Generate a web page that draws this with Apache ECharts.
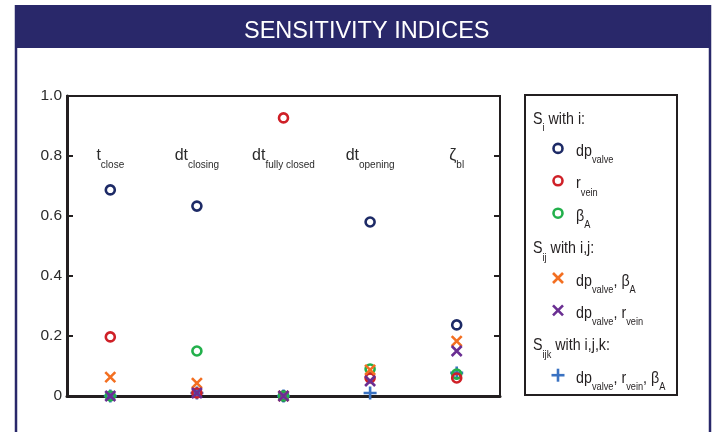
<!DOCTYPE html>
<html><head><meta charset="utf-8">
<script src="https://cdn.jsdelivr.net/npm/echarts@6/dist/echarts.min.js"></script>
<style>html,body{margin:0;padding:0;background:#fff}#c{width:718px;height:432px}</style>
</head><body><div id="c"></div>
<script>
// ---- data ----
const categories = ['t_close', 'dt_closing', 'dt_fully closed', 'dt_opening', 'zeta_bl'];
const categoryLabels = ['{m|t}{s|close}', '{m|dt}{s|closing}', '{m|dt}{s|fully closed}', '{m|dt}{s|opening}', '{m|ζ}{s|bl}'];
const yTicks = [0, 0.2, 0.4, 0.6, 0.8, 1.0];
const dpValve           = [0.687, 0.633, 0.000, 0.580, 0.237];
const rVein             = [0.197, 0.010, 0.927, 0.060, 0.060];
const betaA             = [0.000, 0.150, 0.000, 0.090, 0.073];
const dpValveBetaA      = [0.063, 0.043, 0.000, 0.087, 0.183];
const dpValveRVein      = [0.000, 0.010, 0.000, 0.050, 0.150];
const dpValveRVeinBetaA = [0.000, 0.010, 0.000, 0.010, 0.077];
const seriesNames = ['dp_valve', 'r_vein', 'β_A', 'dp_valve, β_A', 'dp_valve, r_vein', 'dp_valve, r_vein, β_A'];
const legendTexts = [
  '{m|S}{s|i}{m| with i:}',
  '{m|dp}{s|valve}',
  '{m|r}{s|vein}',
  '{m|β}{s|A}',
  '{m|S}{s|ij}{m| with i,j:}',
  '{m|dp}{s|valve}{m|, β}{s|A}',
  '{m|dp}{s|valve}{m|, r}{s|vein}',
  '{m|S}{s|ijk}{m| with i,j,k:}',
  '{m|dp}{s|valve}{m|, r}{s|vein}{m|, β}{s|A}'
];

// ---- styles ----
const C = {navy:'#1d2a66', red:'#cf2027', green:'#22b04b', orange:'#f36f21', purple:'#6a2e92', blue:'#3a72c2'};
const FONT = '"Liberation Sans",Arial,sans-serif';
const TXT = '#231f20';
const rich = {
  m: {fontFamily: FONT, fontSize: 17, lineHeight: 17, verticalAlign: 'top', color: TXT},
  s: {fontFamily: FONT, fontSize: 11, lineHeight: 11, verticalAlign: 'top', padding: [12, 0, 0, 0], color: TXT}
};
const richCat = {
  m: {fontFamily: FONT, fontSize: 16, lineHeight: 16, verticalAlign: 'top', color: '#2b2b2b'},
  s: {fontFamily: FONT, fontSize: 10, lineHeight: 10, verticalAlign: 'top', padding: [12, 0, 0, 0], color: '#2b2b2b'}
};
const XPATH = 'path://M0,0L10,10M10,0L0,10';
const PPATH = 'path://M5,0L5,10M0,5L10,5';

function circleSeries(name, data, color, z) {
  return {name, type: 'scatter', data, z, symbol: 'circle', symbolSize: 9,
    itemStyle: {color: 'rgba(0,0,0,0)', borderColor: color, borderWidth: 2.6, opacity: 1},
    emphasis: {disabled: true}};
}
function pathSeries(name, data, color, path, size, z) {
  return {name, type: 'scatter', data, z, symbol: path, symbolSize: size,
    itemStyle: {color: 'rgba(0,0,0,0)', borderColor: color, borderWidth: 2.6, opacity: 1},
    emphasis: {disabled: true}};
}

// ---- legend graphic ----
const legendKinds = ['head', 'circle', 'circle', 'circle', 'head', 'x', 'x', 'head', 'plus'];
const legendColors = [null, C.navy, C.red, C.green, null, C.orange, C.purple, null, C.blue];
const legendEls = [{type: 'rect', shape: {x: 525, y: 95, width: 152, height: 300},
  style: {fill: '#fff', stroke: TXT, lineWidth: 2}}];
legendTexts.forEach((t, i) => {
  const y = 116 + i * 32.4;
  const kind = legendKinds[i];
  const col = legendColors[i];
  if (kind === 'circle') {
    legendEls.push({type: 'circle', shape: {cx: 558, cy: y, r: 4.5}, style: {fill: 'none', stroke: col, lineWidth: 2.6}});
  } else if (kind === 'x') {
    legendEls.push({type: 'line', shape: {x1: 553, y1: y - 5, x2: 563, y2: y + 5}, style: {stroke: col, lineWidth: 2.6}});
    legendEls.push({type: 'line', shape: {x1: 553, y1: y + 5, x2: 563, y2: y - 5}, style: {stroke: col, lineWidth: 2.6}});
  } else if (kind === 'plus') {
    legendEls.push({type: 'line', shape: {x1: 558, y1: y - 6.5, x2: 558, y2: y + 6.5}, style: {stroke: col, lineWidth: 2.6}});
    legendEls.push({type: 'line', shape: {x1: 551.5, y1: y, x2: 564.5, y2: y}, style: {stroke: col, lineWidth: 2.6}});
  }
  legendEls.push({type: 'text', x: kind === 'head' ? 533 : 576, y: y + 3, scaleX: 0.84,
    style: {text: t, rich, verticalAlign: 'middle', align: 'left', fill: TXT}});
});

const chart = echarts.init(document.getElementById('c'));
chart.setOption({
  animation: false,
  backgroundColor: '#fff',
  title: {text: 'SENSITIVITY INDICES', left: 239, top: 15, z: 20,
    textStyle: {color: '#fff', fontSize: 23.5, fontWeight: 'normal', fontFamily: FONT}},
  graphic: [
    {type: 'rect', z: 1, shape: {x: 15, y: 5, width: 696, height: 43}, style: {fill: '#29286a'}},
    {type: 'line', z: 1, shape: {x1: 16, y1: 5, x2: 16, y2: 432}, style: {stroke: '#29286a', lineWidth: 2.5}},
    {type: 'line', z: 1, shape: {x1: 710, y1: 5, x2: 710, y2: 432}, style: {stroke: '#29286a', lineWidth: 2.5}},
    {type: 'group', z: 5, children: legendEls}
  ],
  grid: {left: 67, right: 218, top: 96, bottom: 36, show: true, borderColor: TXT, borderWidth: 2, backgroundColor: 'transparent'},
  xAxis: {type: 'category', data: categories, boundaryGap: true,
    axisLine: {lineStyle: {color: TXT, width: 3}}, axisTick: {show: false}, axisLabel: {show: false}, splitLine: {show: false}},
  yAxis: [
    {type: 'value', min: yTicks[0], max: yTicks[yTicks.length - 1], interval: 0.2,
      axisLine: {show: true, lineStyle: {color: TXT, width: 3}},
      axisTick: {show: true, inside: true, length: 6, lineStyle: {color: TXT, width: 2}},
      axisLabel: {margin: 5, color: '#2b2b2b', fontSize: 15.5, fontFamily: FONT,
        formatter: v => v === 0 ? '0' : v.toFixed(1)},
      splitLine: {show: false}},
    {type: 'value', position: 'right', min: yTicks[0], max: yTicks[yTicks.length - 1], interval: 0.2,
      axisLine: {show: true, lineStyle: {color: TXT, width: 2}},
      axisTick: {show: true, inside: true, length: 6, lineStyle: {color: TXT, width: 2}},
      axisLabel: {show: false}, splitLine: {show: false}}
  ],
  series: [
    {type: 'scatter', name: 'labels', silent: true, symbolSize: 0, z: 3,
      itemStyle: {opacity: 1},
      data: categories.map((c, i) => ({value: [c, 0.8], label: {formatter: categoryLabels[i]}})),
      label: {show: true, position: 'inside', rich: richCat, opacity: 1}},
    pathSeries(seriesNames[5], dpValveRVeinBetaA, C.blue, PPATH, 13, 4),
    circleSeries(seriesNames[0], dpValve, C.navy, 5),
    circleSeries(seriesNames[2], betaA, C.green, 6),
    circleSeries(seriesNames[1], rVein, C.red, 7),
    pathSeries(seriesNames[3], dpValveBetaA, C.orange, XPATH, 10, 8),
    pathSeries(seriesNames[4], dpValveRVein, C.purple, XPATH, 10, 9)
  ]
});
</script></body></html>
